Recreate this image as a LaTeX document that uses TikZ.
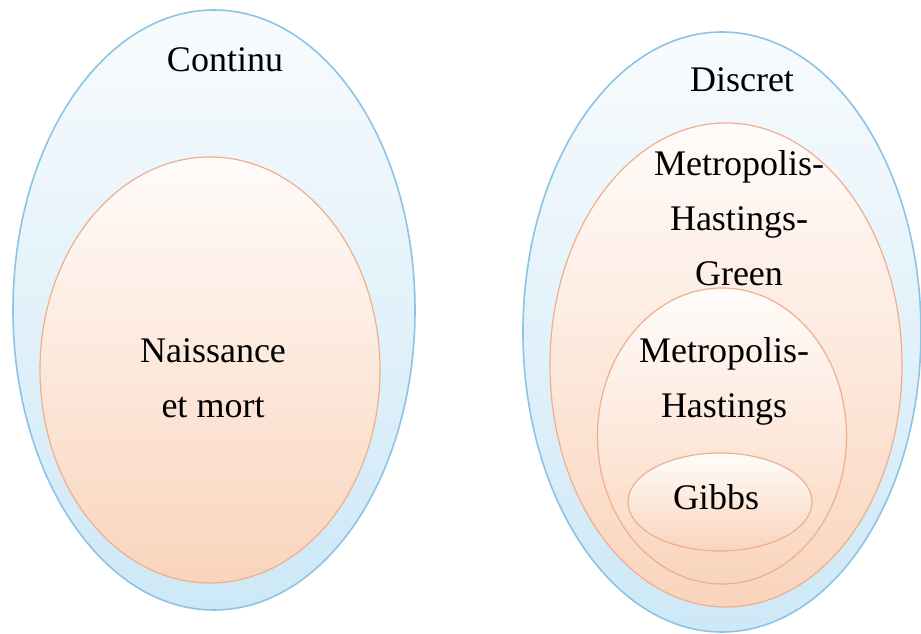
\documentclass[tikz,border=0pt]{standalone}
\usepackage{fontspec}
\setmainfont{Liberation Serif}
\usetikzlibrary{shapes.geometric}
\definecolor{blueedge}{RGB}{140,196,230}
\definecolor{bluefill}{RGB}{205,232,247}
\definecolor{bluetop}{RGB}{248,251,253}
\definecolor{peachedge}{RGB}{240,175,140}
\definecolor{peachfill}{RGB}{250,212,188}
\definecolor{peachtop}{RGB}{255,252,250}
\begin{document}
\begin{tikzpicture}[x=1pt,y=-1pt,
  outerset/.style={ellipse,inner sep=0pt,draw=blueedge,line width=1.6pt,top color=bluetop,bottom color=bluefill},
  innerset/.style={ellipse,inner sep=0pt,draw=peachedge,line width=1.2pt,top color=peachtop,bottom color=peachfill},
  lbl/.style={font=\fontsize{36}{55}\selectfont,align=center,text=black,inner sep=0pt}]
\useasboundingbox (0,0) rectangle (921,634);
\fill[white] (0,0) rectangle (921,634);
% left
\node[outerset,minimum width=402pt,minimum height=600pt] (cont) at (214,310) {};
\node[innerset,minimum width=340pt,minimum height=426pt] (nm) at (210,370) {};
\node[lbl,anchor=base] (tcont) at (225,72) {Continu};
\node[lbl,anchor=base] (tnm) at (213,417) {Naissance\\et mort};
% right
\node[outerset,minimum width=398pt,minimum height=600pt] (disc) at (722,332) {};
\node[innerset,minimum width=352pt,minimum height=484pt] (mhg) at (726,365) {};
\node[innerset,minimum width=249pt,minimum height=296pt] (mh) at (722,436) {};
\node[innerset,minimum width=184pt,minimum height=98pt] (gibbs) at (720,502) {};
\node[lbl,anchor=base] (tdisc) at (742,92) {Discret};
\node[lbl,anchor=base] (tmhg) at (739,285) {Metropolis-\\Hastings-\\Green};
\node[lbl,anchor=base] (tmh) at (724,417) {Metropolis-\\Hastings};
\node[lbl] (tgibbs) at (716,497) {Gibbs};
\end{tikzpicture}
\end{document}
